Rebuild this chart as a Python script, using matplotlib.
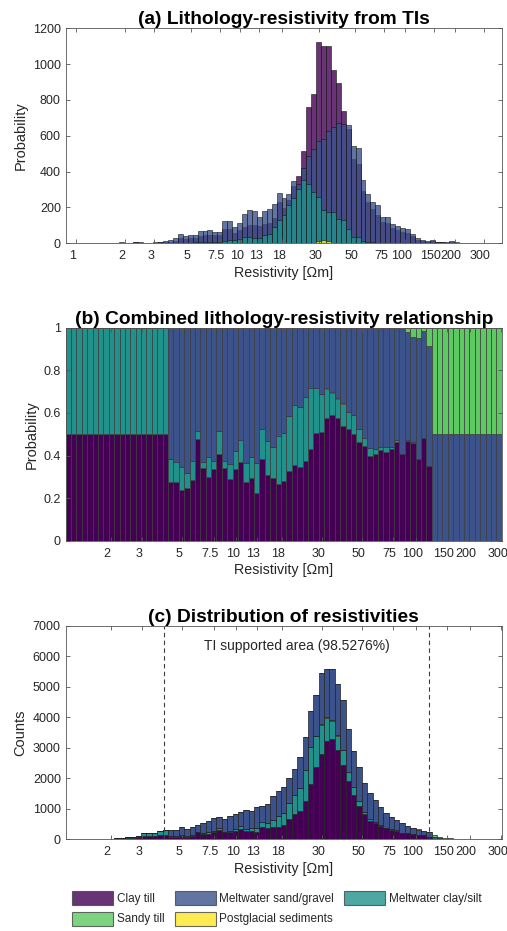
import numpy as np
import matplotlib
matplotlib.use("Agg")
import matplotlib.pyplot as plt
from matplotlib.patches import Patch
from matplotlib.ticker import NullLocator, FormatStrFormatter
from matplotlib.transforms import ScaledTranslation

plt.rcParams['font.family'] = ['Liberation Sans', 'DejaVu Sans']

# ---------------- data ----------------
# logarithmic resistivity bins (log10 edges)
LOG_EDGE_START = 0.05
LOG_BIN_WIDTH = 0.03
N_BINS = 81

lithologies = ['Clay till', 'Meltwater sand/gravel', 'Meltwater clay/silt',
               'Sandy till', 'Postglacial sediments']
colors = ['#440154', '#3b528b', '#21918c', '#5ec962', '#fde725']

tick_values = [1, 2, 3, 5, 7.5, 10, 13, 18, 30, 50, 75, 100, 150, 200, 300]
tick_labels = ['1', '2', '3', '5', '7.5', '10', '13', '18', '30', '50', '75',
               '100', '150', '200', '300']

# (a) lithology-resistivity histograms from training images
clay_a = [0, 0, 0, 0, 0, 1, 2, 4, 1, 2, 5, 3, 2, 1, 4, 6, 7, 10, 15, 30,
          22, 28, 30, 40, 45, 48, 45, 48, 78, 78, 55, 74, 93, 102, 102, 97, 106, 112, 140, 232,
          195, 241, 320, 377, 517, 762, 831, 1121, 1101, 1103, 967, 893, 738, 640, 470, 440, 290, 230, 190, 160,
          120, 115, 85, 75, 65, 60, 38, 20, 14, 10, 12, 6, 5, 4, 8, 3, 2, 2, 2, 2, 1]
sand_a = [0, 0, 0, 0, 0, 2, 3, 6, 2, 3, 8, 5, 3, 2, 7, 10, 12, 18, 28, 52,
          38, 48, 45, 70, 68, 75, 65, 65, 124, 124, 89, 112, 163, 186, 183, 145, 183, 190, 219, 279,
          251, 275, 348, 331, 420, 490, 525, 570, 580, 625, 650, 670, 668, 662, 542, 531, 355, 274, 232, 211,
          149, 149, 108, 97, 84, 78, 50, 28, 19, 15, 19, 9, 8, 7, 13, 5, 4, 3, 3, 3, 2]
silt_a = [0, 0, 0, 0, 0, 0, 0, 0, 0, 0, 0, 0, 0, 0, 0, 0, 0, 0, 2, 3,
          4, 4, 5, 5, 6, 6, 7, 8, 11, 17, 17, 22, 33, 37, 28, 28, 47, 52, 93, 130,
          158, 214, 251, 301, 353, 329, 288, 260, 186, 176, 176, 134, 131, 78, 37, 33, 12, 8, 5, 4,
          3, 2, 2, 2, 2, 2, 1, 1, 0, 0, 0, 0, 0, 0, 0, 0, 0, 0, 0, 0, 0]
sandy_a = [0] * 60 + [1, 1, 1, 2, 2, 2, 2, 2, 2, 2, 2, 2, 2, 2, 2, 1, 1, 1, 1, 1, 1]
post_a = [0] * 46 + [3, 12, 18, 12, 3] + [0] * 30

# (b) combined lithology-resistivity probabilities
clay_b = [0.5] * 19 + [
    .274, .275, .236, .246, .285, .476, .343, .297, .336, .407, .343, .288, .335, .371, .274, .296,
    .222, .383, .307, .293, .266, .280, .329, .357, .347, .376, .429, .504, .509, .574, .590, .577,
    .538, .523, .499, .462, .446, .399, .407, .426, .415, .430, .465, .405, .469, .460, .383, .482,
    .352] + [0.0] * 13
silt_b = [0.5] * 19 + [
    .108, .093, .108, .070, .087, .037, .025, .097, .040, .106, .029, .072, .084, .103, .089, .098,
    .141, .140, .162, .145, .225, .227, .258, .278, .279, .297, .289, .214, .178, .137, .102, .088,
    .104, .081, .091, .061, .034, .036, .023, .012, .026, .008, .008, .003, .004, .002, .002, .002,
    .000] + [0.0] * 13
post_b = [0.0] * 19 + [0.0] * 28 + [.003, .004, .006, .006, .003] + [0.0] * 16 + [0.0] * 13
sand_b = [0.0] * 19 + [
    .618, .632, .656, .684, .628, .487, .632, .606, .624, .487, .628, .640, .581, .526, .637, .606,
    .637, .477, .531, .562, .509, .493, .413, .365, .374, .327, .282, .282, .310, .285, .302, .329,
    .355, .396, .410, .477, .520, .565, .570, .561, .558, .560, .525, .584, .505, .496, .568, .502,
    .563] + [0.5] * 13
sandy_b = [0.0] * 19 + [0.0] * 39 + [.001, .001, .002, .002, .008, .022, .042, .047, .014, .085] + [0.5] * 13

# (c) total counts of inverted resistivities per bin
counts_c = [0, 0, 0, 0, 0, 0, 0, 0, 22, 55, 55, 76, 87, 120, 197, 197, 218, 262, 295, 306,
            306, 404, 349, 415, 470, 535, 612, 699, 721, 666, 775, 819, 906, 961, 917, 1059, 1092, 1168, 1409, 1572,
            1704, 2020, 2304, 2686, 3363, 4193, 4717, 5460, 5591, 5580, 5089, 4554, 3625, 2883, 2380, 1835, 1507, 1290, 1050, 870,
            740, 620, 540, 450, 380, 330, 284, 250, 131, 66, 44, 33, 22, 15, 11, 8, 5, 4, 3, 2, 0]
TI_LOW, TI_HIGH = 3.98, 119.4
TI_TEXT = 'TI supported area (98.5276%)'

# ---------------- figure ----------------
edges = 10 ** (LOG_EDGE_START + LOG_BIN_WIDTH * np.arange(N_BINS + 1))
left = edges[:-1]
width = np.diff(edges)

W, H = 507, 931
fig = plt.figure(figsize=(W / 100, H / 100), dpi=100)


def add_axes(l, r, t, b):
    return fig.add_axes([l / W, 1 - b / H, (r - l) / W, (b - t) / H])


axA = add_axes(65.7, 501.7, 28.3, 243.3)
axB = add_axes(65.7, 501.7, 327.7, 540.7)
axC = add_axes(65.7, 501.7, 625.7, 839.3)

TXT = '#262626'
AXC = '#555555'


def style(ax, title, ylabel, ylab_x, xlim):
    ax.set_xscale('log')
    ax.xaxis.set_minor_locator(NullLocator())
    ax.set_xticks(tick_values)
    ax.set_xticklabels(tick_labels)
    ax.set_xlim(*xlim)
    for s in ax.spines.values():
        s.set_color(AXC)
        s.set_linewidth(0.6)
    ax.tick_params(axis='both', which='both', direction='in', top=True, right=True,
                   length=3, width=0.6, color=AXC, labelcolor=TXT, labelsize=9)
    ax.tick_params(axis='x', pad=5)
    ax.tick_params(axis='y', pad=3.5)
    ax.set_title(title, fontsize=13.8, fontweight='bold', color='black', pad=3)
    ax.set_ylabel(ylabel, fontsize=10.5, color=TXT)
    ax.yaxis.set_label_coords(ylab_x, 0.5)
    ax.set_xlabel('Resistivity [Ωm]', fontsize=10.3, color=TXT)
    ax.xaxis.set_label_coords(0.5, -0.105)
    ax.set_axisbelow(False)


# (a) overlaid histograms
series_a = [clay_a, sand_a, silt_a, sandy_a, post_a]
for vals, c in zip(series_a, colors):
    axA.bar(left, vals, width=width, align='edge', color=c, alpha=0.8,
            edgecolor='#141414', linewidth=0.5)
axA.set_ylim(0, 1200)
axA.set_yticks(range(0, 1201, 200))
style(axA, '(a) Lithology-resistivity from TIs', 'Probability', -0.088,
      (10 ** -0.0614, 10 ** 2.5875))

# (b) stacked probabilities
order = [0, 2, 4, 1, 3]  # clay till, clay/silt, postglacial, sand/gravel, sandy till
series_b = [clay_b, sand_b, silt_b, sandy_b, post_b]
bottom = np.zeros(N_BINS)
for k in order:
    v = np.array(series_b[k])
    axB.bar(left, v, width=width, bottom=bottom, align='edge', color=colors[k],
            edgecolor='#3a3a3a', linewidth=0.5)
    bottom += v
axB.set_ylim(0, 1)
axB.set_yticks([0, 0.2, 0.4, 0.6, 0.8, 1])
axB.yaxis.set_major_formatter(FormatStrFormatter('%g'))
style(axB, '(b) Combined lithology-resistivity relationship', 'Probability', -0.062,
      (edges[0], edges[-1]))

# (c) stacked counts (total counts split by combined probabilities)
total = np.array(counts_c, dtype=float)
bottom = np.zeros(N_BINS)
for k in order:
    v = total * np.array(series_b[k])
    axC.bar(left, v, width=width, bottom=bottom, align='edge', color=colors[k],
            edgecolor='#222222', linewidth=0.5)
    bottom += v
axC.axvline(TI_LOW, color='#3c3c3c', ls=(0, (4, 3)), lw=0.8)
axC.axvline(TI_HIGH, color='#3c3c3c', ls=(0, (4, 3)), lw=0.8)
axC.text(np.sqrt(TI_LOW * TI_HIGH), 6350, TI_TEXT, ha='center', va='center',
         fontsize=10, color=TXT)
axC.set_ylim(0, 7000)
axC.set_yticks(range(0, 7001, 1000))
style(axC, '(c) Distribution of resistivities', 'Counts', -0.088,
      (edges[0], edges[-1]))

# legend (column-major fill -> row-major appearance)
handles = [Patch(facecolor=c, alpha=0.8, edgecolor='#444444', linewidth=0.8) for c in colors]
leg_order = [0, 3, 1, 4, 2]
fig.legend([handles[i] for i in leg_order], [lithologies[i] for i in leg_order],
           ncol=3, loc='upper left', bbox_to_anchor=(72 / W, 1 - 891 / H),
           frameon=False, fontsize=8.5, handlelength=3.5, handleheight=1.45,
           handletextpad=0.3, columnspacing=0.85, labelspacing=0.55,
           borderpad=0, borderaxespad=0, labelcolor=TXT)

# tick labels appear slightly left of the tick marks in the original
fig.canvas.draw()
for ax in (axA, axB, axC):
    for tick in ax.xaxis.get_major_ticks():
        tick.label1.set_transform(tick.label1.get_transform() +
                                  ScaledTranslation(-3.5 / 100, 0, fig.dpi_scale_trans))

fig.savefig('out.png', dpi=100)
